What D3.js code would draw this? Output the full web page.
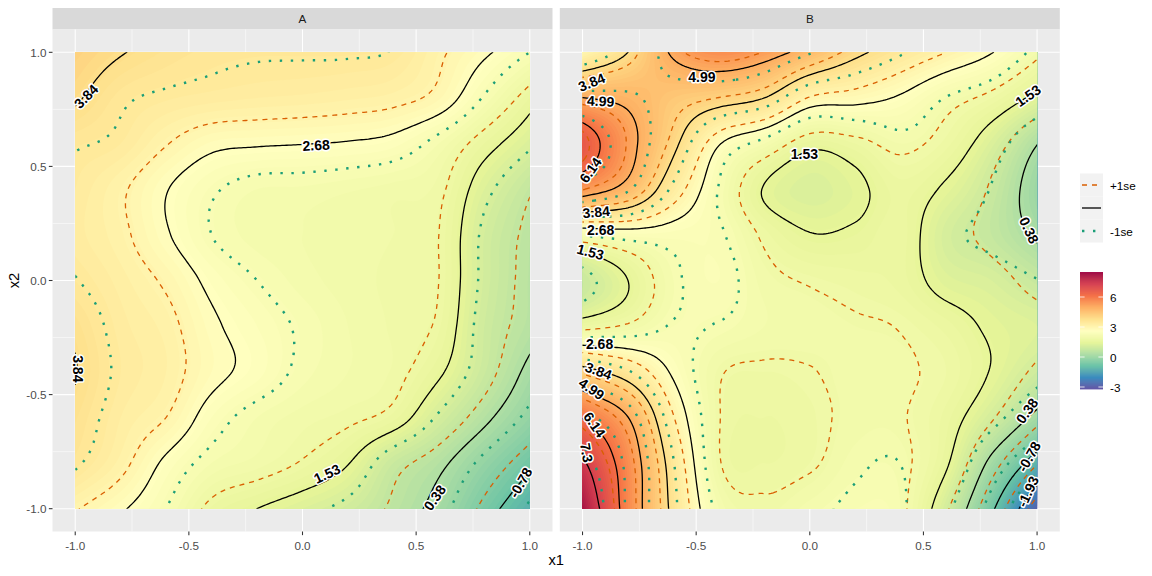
<!DOCTYPE html>
<html><head><meta charset="utf-8">
<script src="https://cdn.jsdelivr.net/npm/d3@7"></script>
<style>
body{margin:0;background:#fff;}
text{font-family:"Liberation Sans",Arial,sans-serif;}
</style></head>
<body>
<script>
// ---------------- DATA ----------------
const panels = ["A", "B"];
const gridCoords = [-1, -0.8, -0.6, -0.4, -0.2, 0, 0.2, 0.4, 0.6, 0.8, 1];
// fitted surface, rows from x2 = 1 (top) to x2 = -1 (bottom), columns x1 = -1 .. 1
const fitA = [
  [4.15, 3.87, 3.68, 3.56, 3.52, 3.52, 3.52, 3.46, 3.10, 2.75, 2.35],
  [3.90, 3.55, 3.42, 3.35, 3.30, 3.27, 3.22, 3.15, 2.92, 2.30, 1.70],
  [3.52, 3.40, 3.06, 2.78, 2.72, 2.69, 2.65, 2.55, 2.20, 1.70, 1.25],
  [3.40, 3.10, 2.70, 2.38, 2.20, 2.18, 2.12, 2.05, 1.95, 1.30, 0.78],
  [3.35, 3.12, 2.72, 2.33, 2.15, 2.10, 2.05, 2.00, 1.88, 1.10, 0.62],
  [3.50, 3.25, 2.98, 2.58, 2.33, 2.15, 2.05, 1.97, 1.88, 1.08, 0.58],
  [3.75, 3.35, 3.15, 2.75, 2.50, 2.28, 2.10, 1.98, 1.82, 1.00, 0.55],
  [3.86, 3.40, 3.20, 2.80, 2.55, 2.25, 2.10, 1.98, 1.60, 0.92, 0.25],
  [3.72, 3.30, 3.04, 2.50, 2.20, 2.05, 1.95, 1.75, 1.12, 0.50, -0.10],
  [3.55, 3.15, 2.60, 2.20, 2.05, 1.85, 1.55, 0.90, 0.50, -0.10, -0.68],
  [3.05, 2.73, 2.33, 1.78, 1.53, 1.30, 1.05, 0.65, 0.20, -0.55, -1.20]
];
const fitB = [
  [3.00, 3.84, 5.10, 5.60, 5.30, 4.70, 4.00, 3.50, 3.10, 2.70, 2.10],
  [5.00, 4.80, 4.40, 4.15, 3.84, 3.00, 2.85, 2.62, 2.20, 1.90, 1.40],
  [6.70, 5.27, 4.00, 2.72, 2.20, 1.65, 1.80, 2.10, 1.85, 1.25, 0.40],
  [5.40, 4.70, 3.35, 2.30, 1.50, 1.25, 1.42, 1.75, 1.45, 0.90, 0.05],
  [2.30, 2.45, 2.45, 2.35, 1.85, 1.55, 1.60, 1.75, 1.15, 0.80, 0.30],
  [0.90, 1.53, 2.20, 2.40, 2.05, 1.93, 1.85, 1.75, 1.35, 1.20, 0.85],
  [1.80, 2.00, 2.30, 2.25, 2.10, 2.05, 2.00, 1.95, 1.75, 1.45, 1.30],
  [4.10, 3.50, 2.60, 1.98, 1.90, 1.95, 2.05, 2.05, 1.90, 1.50, 1.00],
  [6.10, 5.00, 3.10, 1.95, 1.80, 1.88, 2.05, 2.05, 1.75, 1.10, 0.20],
  [7.45, 5.60, 3.50, 1.95, 1.80, 1.90, 2.15, 2.15, 1.60, 0.20, -1.15],
  [8.30, 5.70, 3.65, 2.20, 1.97, 2.15, 2.30, 2.20, 1.10, -0.65, -2.80]
];
// standard error surface on a coarser grid
const seCoords = [-1, -0.5, 0, 0.5, 1];
const seA = [
  [0.82, 0.80, 0.80, 0.80, 0.82],
  [0.80, 0.80, 0.80, 0.80, 0.80],
  [0.80, 0.80, 0.80, 0.80, 0.80],
  [0.80, 0.80, 0.80, 0.80, 0.80],
  [0.82, 0.80, 0.80, 0.80, 0.82]
];
const seB = [
  [0.90, 0.85, 0.80, 0.75, 0.70],
  [0.80, 0.80, 0.80, 0.65, 0.50],
  [0.70, 0.75, 0.72, 0.70, 0.45],
  [0.80, 0.75, 0.72, 0.65, 0.40],
  [0.90, 0.80, 0.75, 0.55, 0.45]
];
const contourLevels = [-1.93, -0.78, 0.38, 1.53, 2.68, 3.84, 4.99, 6.14, 7.3];
const axisTicks = [-1, -0.5, 0, 0.5, 1];
const minorTicks = [-0.75, -0.25, 0.25, 0.75];
const fillDomain = [-3.2, 8.5];
const colorbarTicks = [-3, 0, 3, 6];
const spectralColors = ["#5E4FA2","#3288BD","#66C2A5","#ABDDA4","#E6F598","#FFFFBF","#FEE08B","#FDAE61","#F46D43","#D53E4F","#9E0142"];
const seriesNames = ["+1se", "", "-1se"];
// contour labels: text, x1, x2, angle
const labelsA = [
  ["3.84", -0.952, 0.807, -45], ["2.68", 0.06, 0.593, -3], ["3.84", -0.99, -0.387, 90],
  ["1.53", 0.108, -0.847, -25], ["0.38", 0.582, -0.952, -55], ["-0.78", 0.96, -0.886, -60]
];
const labelsB = [
  ["3.84", -0.96, 0.869, -22], ["4.99", -0.92, 0.786, 3], ["6.14", -0.965, 0.484, -55],
  ["4.99", -0.475, 0.89, 0], ["1.53", -0.024, 0.554, 0], ["1.53", 0.96, 0.81, -35],
  ["0.38", 0.965, 0.22, 65], ["3.84", -0.94, 0.30, -5], ["2.68", -0.92, 0.22, 0],
  ["1.53", -0.965, 0.125, 15], ["2.68", -0.925, -0.278, 0], ["3.84", -0.93, -0.396, 20],
  ["4.99", -0.96, -0.475, 35], ["6.14", -0.947, -0.632, 55], ["7.3", -0.982, -0.755, 80],
  ["0.38", 0.956, -0.571, -55], ["-0.78", 0.965, -0.772, -60], ["-1.93", 0.96, -0.925, -65]
];

// ---------------- DRAWING ----------------
const W = 1152, H = 576;
const panelTop = 29.5, panelH = 502, panelW = 500, stripTop = 8;
const panelX = [52.5, 559.8];
const fits = [fitA, fitB], ses = [seA, seB], labelSets = [labelsA, labelsB];

const svg = d3.select("body").append("svg").attr("width", W).attr("height", H);
svg.append("rect").attr("width", W).attr("height", H).attr("fill", "#fff");
const defs = svg.append("defs");

const color = d3.scaleLinear()
  .domain(d3.range(11).map(i => fillDomain[0] + i * (fillDomain[1] - fillDomain[0]) / 10))
  .range(spectralColors).interpolate(d3.interpolateLab).clamp(true);

function cr(p0, p1, p2, p3, t) {
  return 0.5 * ((2 * p1) + (-p0 + p2) * t + (2 * p0 - 5 * p1 + 4 * p2 - p3) * t * t + (-p0 + 3 * p1 - 3 * p2 + p3) * t * t * t);
}
function sampler(coords, grid) {
  const n = coords.length, lo = coords[0], hi = coords[n - 1], step = coords[1] - coords[0];
  function get(i, j) {
    if (i < 0) return 2 * get(0, j) - get(1, j);
    if (i > n - 1) return 2 * get(n - 1, j) - get(n - 2, j);
    if (j < 0) return 2 * get(i, 0) - get(i, 1);
    if (j > n - 1) return 2 * get(i, n - 1) - get(i, n - 2);
    return grid[j][i];
  }
  return (x, y) => {
    x = Math.max(lo, Math.min(hi, x)); y = Math.max(lo, Math.min(hi, y));
    const fx = (x - lo) / step, fy = (hi - y) / step;
    const i = Math.min(n - 2, Math.floor(fx)), j = Math.min(n - 2, Math.floor(fy));
    const tx = fx - i, ty = fy - j;
    const r = [-1, 0, 1, 2].map(dj => cr(get(i - 1, j + dj), get(i, j + dj), get(i + 1, j + dj), get(i + 2, j + dj), tx));
    return cr(r[0], r[1], r[2], r[3], ty);
  };
}

const h = 0.01, g0 = -1.02, N = Math.round(2 * 1.02 / h) + 1;
function field(f) {
  const v = new Float64Array(N * N);
  for (let j = 0; j < N; j++) {
    const y = -g0 - j * h;
    for (let i = 0; i < N; i++) v[i + j * N] = f(g0 + i * h, y);
  }
  return v;
}
const fillStep = 0.1;
const fillThresholds = d3.range(fillDomain[0], fillDomain[1], fillStep);
const tickFont = 11.7;

panels.forEach((name, pi) => {
  const x0 = panelX[pi];
  const xs = d3.scaleLinear().domain([-1.1, 1.1]).range([x0, x0 + panelW]);
  const ys = d3.scaleLinear().domain([-1.1, 1.1]).range([panelTop + panelH, panelTop]);
  const g = svg.append("g");
  g.append("rect").attr("x", x0).attr("y", stripTop).attr("width", panelW).attr("height", panelTop - stripTop).attr("fill", "#D9D9D9");
  g.append("text").attr("x", x0 + panelW / 2).attr("y", (stripTop + panelTop) / 2).attr("text-anchor", "middle")
    .attr("dominant-baseline", "central").attr("font-size", tickFont).attr("fill", "#1A1A1A").text(name);
  g.append("rect").attr("x", x0).attr("y", panelTop).attr("width", panelW).attr("height", panelH).attr("fill", "#EBEBEB");
  minorTicks.forEach(v => {
    g.append("line").attr("x1", xs(v)).attr("x2", xs(v)).attr("y1", panelTop).attr("y2", panelTop + panelH).attr("stroke", "#fff").attr("stroke-width", 0.53);
    g.append("line").attr("y1", ys(v)).attr("y2", ys(v)).attr("x1", x0).attr("x2", x0 + panelW).attr("stroke", "#fff").attr("stroke-width", 0.53);
  });
  axisTicks.forEach(v => {
    g.append("line").attr("x1", xs(v)).attr("x2", xs(v)).attr("y1", panelTop).attr("y2", panelTop + panelH).attr("stroke", "#fff").attr("stroke-width", 1.07);
    g.append("line").attr("y1", ys(v)).attr("y2", ys(v)).attr("x1", x0).attr("x2", x0 + panelW).attr("stroke", "#fff").attr("stroke-width", 1.07);
  });
  defs.append("clipPath").attr("id", "clip" + name).append("rect")
    .attr("x", xs(-1)).attr("y", ys(1)).attr("width", xs(1) - xs(-1)).attr("height", ys(-1) - ys(1));
  const cg = g.append("g").attr("clip-path", `url(#clip${name})`);
  cg.append("rect").attr("x", xs(-1)).attr("y", ys(1)).attr("width", xs(1) - xs(-1)).attr("height", ys(-1) - ys(1))
    .attr("fill", color(fillDomain[0]));

  const fit = sampler(gridCoords, fits[pi]);
  const se = sampler(seCoords, ses[pi]);
  const vFit = field((x, y) => fit(x, y));
  const vUp = field((x, y) => fit(x, y) + se(x, y));
  const vLo = field((x, y) => fit(x, y) - se(x, y));

  const proj = d3.geoTransform({
    point(cx, cy) { this.stream.point(xs(g0 + (cx - 0.5) * h), ys(-g0 - (cy - 0.5) * h)); }
  });
  const path = d3.geoPath(proj);
  const gen = d3.contours().size([N, N]);

  const bands = gen.thresholds(fillThresholds)(vFit);
  cg.selectAll("path.band").data(bands).join("path").attr("class", "band")
    .attr("d", path).attr("fill", d => color(d.value + fillStep / 2)).attr("stroke", "none");

  const up = gen.thresholds(contourLevels)(vUp);
  cg.selectAll("path.up").data(up).join("path").attr("class", "up").attr("d", path)
    .attr("fill", "none").attr("stroke", "#D95F02").attr("stroke-width", 1.3).attr("stroke-dasharray", "5,5");
  const lo = gen.thresholds(contourLevels)(vLo);
  cg.selectAll("path.lo").data(lo).join("path").attr("class", "lo").attr("d", path)
    .attr("fill", "none").attr("stroke", "#1B9E77").attr("stroke-width", 2.4).attr("stroke-dasharray", "2.4,8.6");
  const mid = gen.thresholds(contourLevels)(vFit);
  cg.selectAll("path.mid").data(mid).join("path").attr("class", "mid").attr("d", path)
    .attr("fill", "none").attr("stroke", "#000").attr("stroke-width", 1.3);

  g.selectAll("text.lab").data(labelSets[pi]).join("text").attr("class", "lab")
    .attr("transform", d => `translate(${xs(d[1])},${ys(d[2])}) rotate(${d[3]})`)
    .attr("text-anchor", "middle").attr("dominant-baseline", "central")
    .attr("font-size", 14).attr("font-weight", "bold").attr("fill", "#000").attr("stroke", "#fff").attr("stroke-width", 3)
    .attr("stroke-linejoin", "round").attr("paint-order", "stroke").text(d => d[0]);

  axisTicks.forEach(v => {
    g.append("line").attr("x1", xs(v)).attr("x2", xs(v)).attr("y1", panelTop + panelH).attr("y2", panelTop + panelH + 3.65)
      .attr("stroke", "#333").attr("stroke-width", 1.07);
    g.append("text").attr("x", xs(v)).attr("y", panelTop + panelH + 14).attr("text-anchor", "middle")
      .attr("dominant-baseline", "central").attr("font-size", tickFont).attr("fill", "#4D4D4D").text(v.toFixed(1));
  });
  if (pi === 0) {
    axisTicks.forEach(v => {
      g.append("line").attr("x1", x0 - 3.65).attr("x2", x0).attr("y1", ys(v)).attr("y2", ys(v)).attr("stroke", "#333").attr("stroke-width", 1.07);
      g.append("text").attr("x", x0 - 6).attr("y", ys(v)).attr("text-anchor", "end")
        .attr("dominant-baseline", "central").attr("font-size", tickFont).attr("fill", "#4D4D4D").text(v.toFixed(1));
    });
  }
});

svg.append("text").attr("x", (panelX[0] + panelX[1] + panelW) / 2).attr("y", 560).attr("text-anchor", "middle")
  .attr("dominant-baseline", "central").attr("font-size", 14.7).attr("fill", "#000").text("x1");
svg.append("text").attr("transform", `translate(14,${panelTop + panelH / 2}) rotate(-90)`).attr("text-anchor", "middle")
  .attr("dominant-baseline", "central").attr("font-size", 14.7).attr("fill", "#000").text("x2");

const lg = svg.append("g");
const keyX = 1080, keyW = 23, keyTop = 173.5;
const keyStyles = [
  {stroke: "#D95F02", w: 1.3, dash: "5,5"},
  {stroke: "#000", w: 1.3, dash: null},
  {stroke: "#1B9E77", w: 2.4, dash: "2.4,8.6"}
];
seriesNames.forEach((s, i) => {
  const cy = keyTop + keyW * i + keyW / 2;
  lg.append("rect").attr("x", keyX).attr("y", keyTop + keyW * i).attr("width", keyW).attr("height", keyW).attr("fill", "#F2F2F2");
  const ln = lg.append("line").attr("x1", keyX + 2).attr("x2", keyX + keyW - 2).attr("y1", cy).attr("y2", cy)
    .attr("stroke", keyStyles[i].stroke).attr("stroke-width", keyStyles[i].w);
  if (keyStyles[i].dash) ln.attr("stroke-dasharray", keyStyles[i].dash);
  lg.append("text").attr("x", keyX + keyW + 7).attr("y", cy).attr("dominant-baseline", "central")
    .attr("font-size", tickFont).attr("fill", "#000").text(s);
});

const cbTop = 272, cbH = 117, cbX = 1080, cbW = 23;
const cbScale = d3.scaleLinear().domain(fillDomain).range([cbTop + cbH, cbTop]);
const cbSteps = d3.range(fillDomain[0], fillDomain[1], 0.05);
lg.selectAll("rect.cb").data(cbSteps).join("rect").attr("class", "cb")
  .attr("x", cbX).attr("width", cbW).attr("y", d => cbScale(d + 0.05)).attr("height", d => cbScale(d) - cbScale(d + 0.05) + 0.4)
  .attr("fill", d => color(d + 0.025));
colorbarTicks.forEach(v => {
  const y = cbScale(v);
  lg.append("line").attr("x1", cbX).attr("x2", cbX + cbW / 5).attr("y1", y).attr("y2", y).attr("stroke", "#fff").attr("stroke-width", 0.8);
  lg.append("line").attr("x1", cbX + cbW - cbW / 5).attr("x2", cbX + cbW).attr("y1", y).attr("y2", y).attr("stroke", "#fff").attr("stroke-width", 0.8);
  lg.append("text").attr("x", cbX + cbW + 7).attr("y", y).attr("dominant-baseline", "central")
    .attr("font-size", tickFont).attr("fill", "#000").text(v);
});
</script>
</body></html>
